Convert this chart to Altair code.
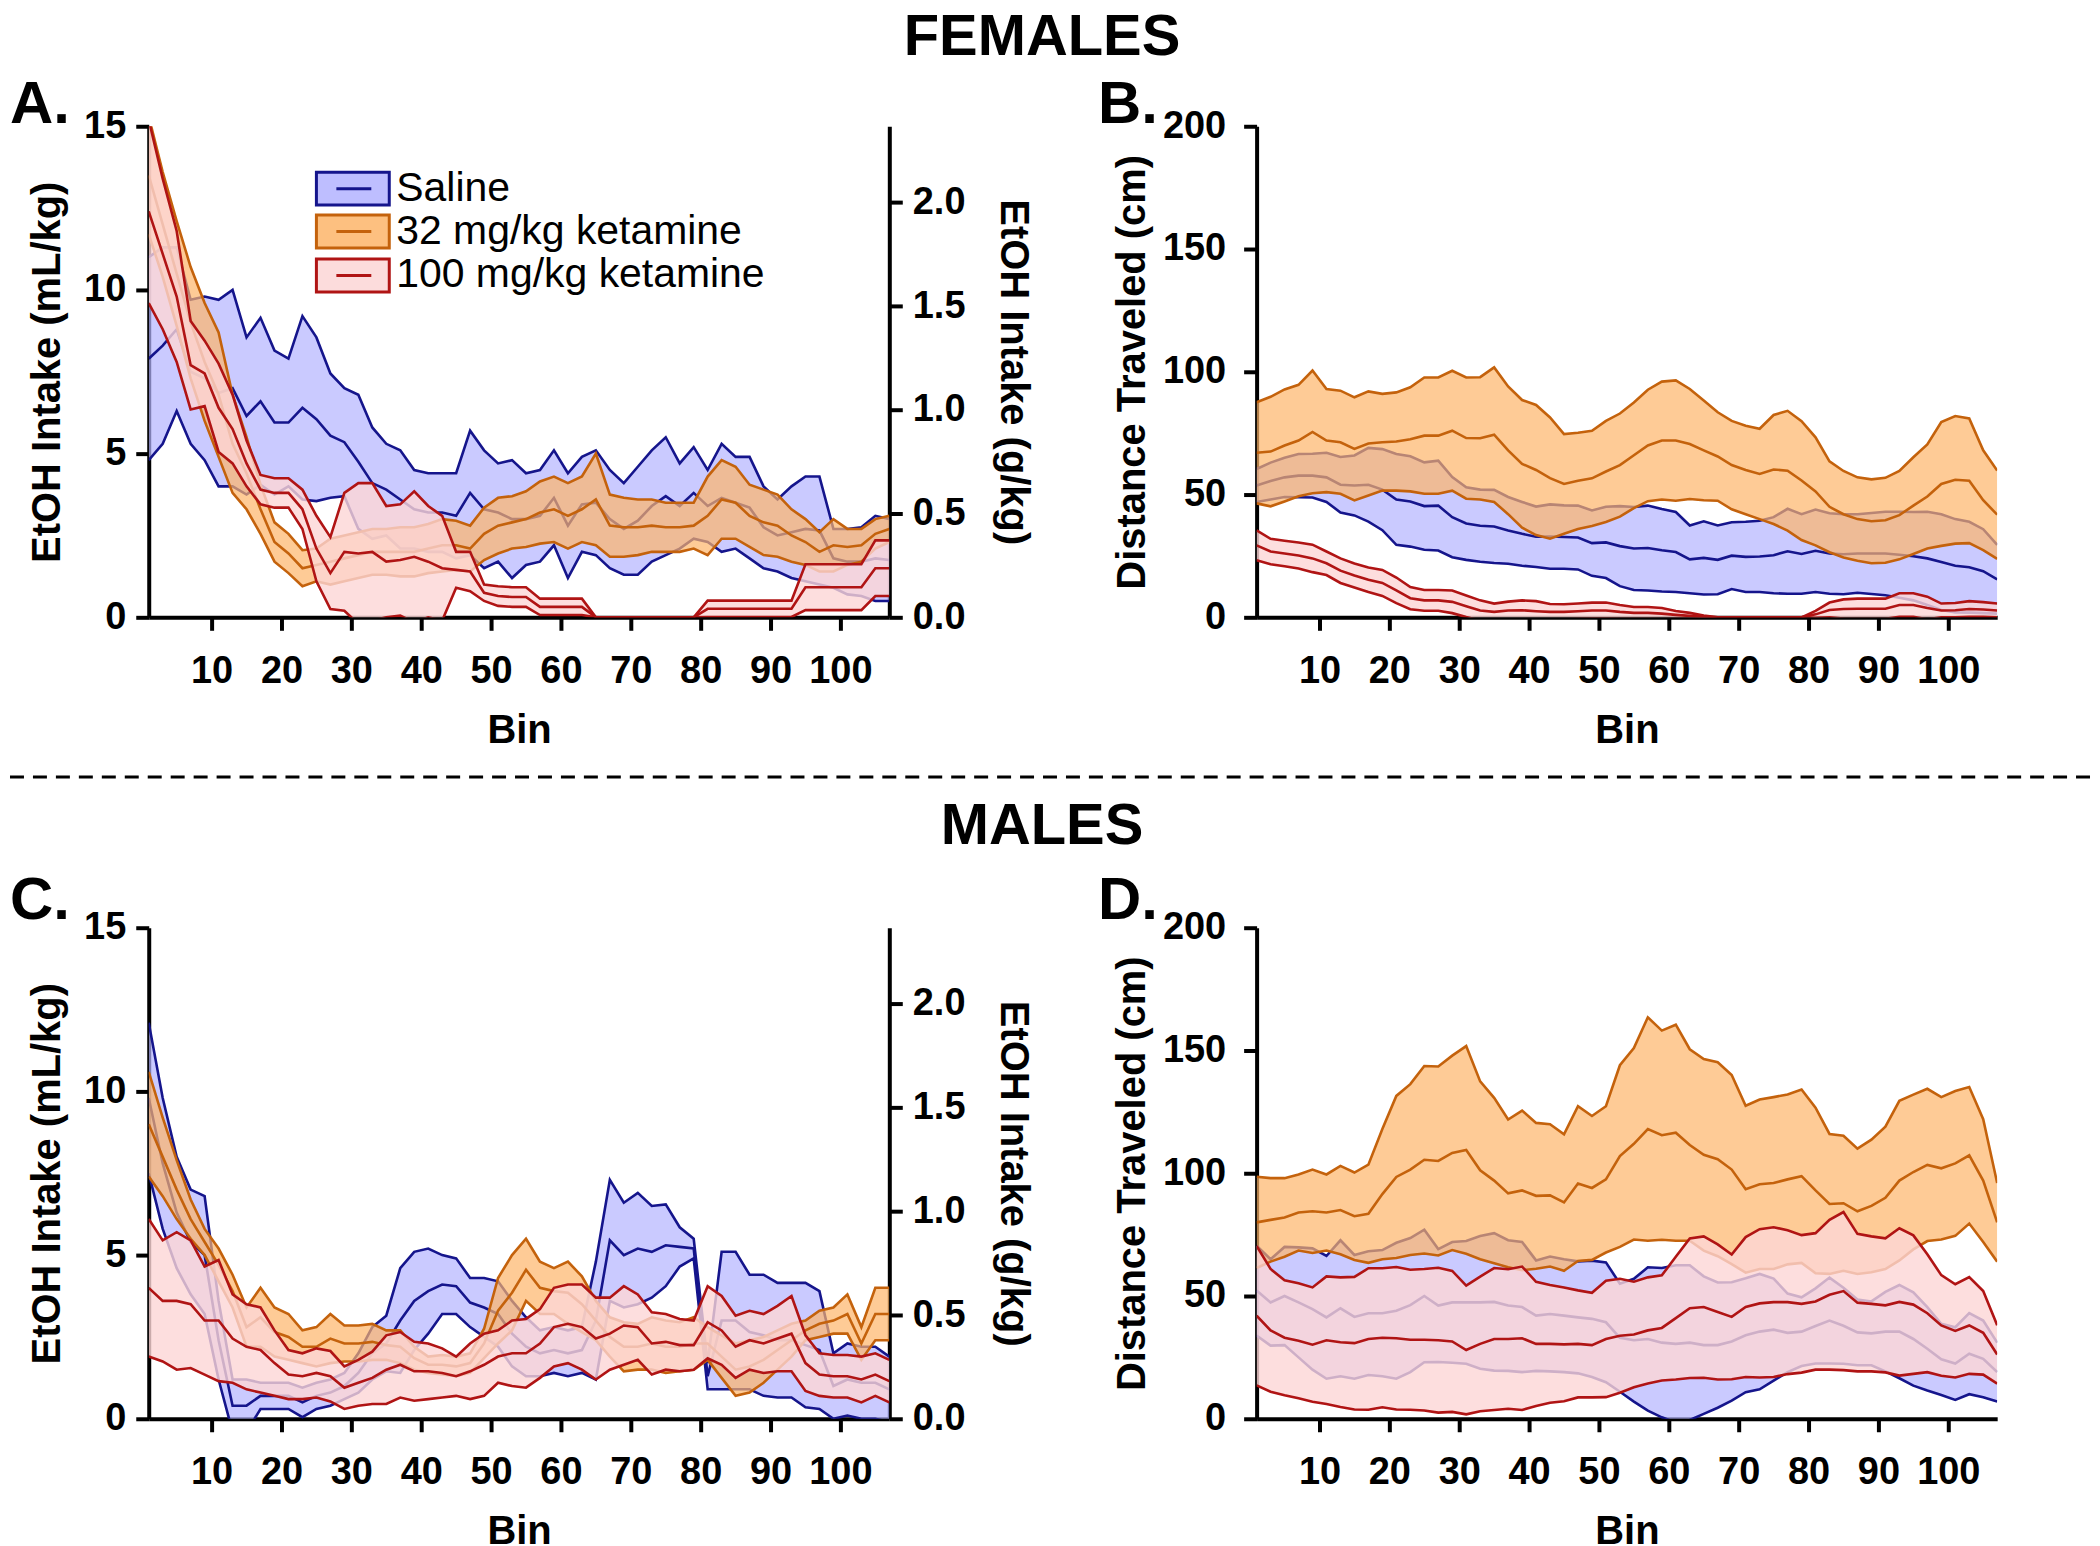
import altair as alt
import pandas as pd

FONT = "Liberation Sans"
BINS = list(range(1, 108, 2))
GROUPS = ["Saline", "32 mg/kg ketamine", "100 mg/kg ketamine"]
LINE_COLORS = ["#15158c", "#c4620c", "#b01414"]
FILL_COLORS = ["#b3b3ff", "#fdb56a", "#fcd6d6"]
FILL_OPACITY = [0.7, 0.7, 0.8]
GKG = 0.1578  # g/kg per mL/kg

# ---------------- Females, EtOH intake (mL/kg) ----------------
FA_SAL_M = [7.9, 8.3, 8.8, 7.5, 7.3, 6.85, 7.0, 6.15, 6.6, 5.95,
            5.95, 6.4, 6.05, 5.55, 5.35, 4.75, 4.1, 3.9, 3.6, 3.3,
            3.2, 3.2, 3.1, 3.8, 3.3, 3.2, 3.0, 3.0, 3.1, 3.65,
            2.8, 3.45, 3.5, 3.0, 2.7, 2.95, 3.4, 3.7, 3.4, 3.8,
            3.4, 3.65, 3.5, 3.35, 2.75, 2.5, 2.6, 2.7, 2.65, 1.8,
            1.7, 1.7, 1.8, 1.75]
FA_SAL_S = [3.1, 3.0, 2.5, 2.2, 2.5, 2.85, 3.0, 2.4, 2.55, 2.2,
            1.95, 2.8, 2.5, 1.9, 1.65, 2.05, 1.7, 1.4, 1.5, 1.2,
            1.2, 1.2, 1.3, 1.9, 1.8, 1.5, 1.8, 1.4, 1.4, 1.45,
            1.6, 1.45, 1.6, 1.5, 1.4, 1.65, 1.7, 1.8, 1.3, 1.4,
            1.1, 1.65, 1.4, 1.55, 1.25, 1.1, 1.4, 1.6, 1.65, 0.9,
            1.0, 1.05, 1.3, 1.25]
FA_K32_M = [13.5, 12.0, 10.5, 9.0, 7.8, 6.8, 5.3, 4.4, 3.3, 2.3,
            1.95, 1.5, 1.6, 1.7, 1.8, 1.9, 2.0, 2.0, 2.0, 2.0,
            2.1, 2.2, 2.2, 2.1, 2.55, 2.8, 2.9, 3.0, 3.2, 3.3,
            3.1, 3.3, 3.6, 2.8, 2.75, 2.75, 2.8, 2.75, 2.75, 2.8,
            3.1, 3.6, 3.5, 3.1, 2.9, 2.8, 2.5, 2.3, 2.0, 2.2,
            2.15, 2.2, 2.55, 2.7]
FA_K32_S = [1.8, 1.6, 1.6, 1.7, 1.8, 1.9, 1.5, 1.1, 0.75, 0.6,
            0.6, 0.55, 0.5, 0.7, 0.7, 0.7, 0.7, 0.7, 0.75, 0.75,
            0.75, 0.8, 0.75, 0.7, 0.8, 0.85, 0.8, 0.85, 0.95, 1.0,
            1.0, 1.0, 1.4, 0.95, 0.9, 0.85, 0.8, 0.75, 0.75, 0.7,
            1.2, 1.2, 1.1, 0.95, 1.0, 0.95, 0.8, 0.7, 0.6, 0.8,
            0.55, 0.5, 0.45, 0.4]
FA_K100_M = [12.4, 11.1, 9.8, 7.7, 7.45, 6.4, 5.75, 4.7, 3.9, 3.8,
             3.8, 3.3, 2.1, 1.35, 2.0, 1.95, 2.0, 1.7, 1.75, 1.85,
             1.7, 1.5, 1.45, 1.4, 0.75, 0.65, 0.62, 0.62, 0.32, 0.32,
             0.32, 0.32, 0, 0, 0, 0, 0, 0, 0, 0,
             0.26, 0.26, 0.26, 0.26, 0.26, 0.26, 0.26, 0.92, 0.92, 0.92,
             0.92, 0.92, 1.5, 1.5]
FA_K100_S = [2.8, 2.3, 2.0, 1.35, 1.0, 1.35, 1.05, 0.7, 0.45, 0.45,
             0.45, 0.6, 1.0, 1.1, 1.8, 2.15, 2.1, 1.7, 1.7, 2.0,
             1.7, 1.6, 0.55, 0.6, 0.25, 0.3, 0.3, 0.3, 0.25, 0.25,
             0.25, 0.25, 0, 0, 0, 0, 0, 0, 0, 0,
             0.25, 0.25, 0.25, 0.25, 0.25, 0.25, 0.25, 0.7, 0.7, 0.7,
             0.7, 0.7, 0.85, 0.85]

# ---------------- Females, distance traveled (cm) ----------------
FB_SAL_M = [53.7, 55.5, 57, 57.7, 57.7, 57, 54, 53.7, 54, 52,
            48, 47.2, 45.3, 45.5, 40.8, 38.2, 37.3, 37, 35.4, 34,
            32.8, 32.9, 32.7, 32.5, 30.2, 30.5, 29, 28, 28.2, 27.3,
            26.6, 23.6, 24.2, 23.4, 25.1, 24.6, 24.8, 25.3, 26.9, 25.8,
            27.1, 26, 25.7, 26, 26, 26, 25.5, 24.9, 24, 22.5,
            21, 20.4, 18.8, 15.5]
FB_SAL_S = [6.7, 7.5, 8, 8.8, 8.9, 10, 11.3, 12.2, 15, 16.5,
            18.5, 18.4, 17.8, 18.3, 16.3, 14.8, 14.7, 14.9, 13.6, 13,
            12.3, 13.1, 12.9, 13, 13.3, 14.5, 16.3, 16.9, 17.3, 16.8,
            16.3, 13.8, 14.9, 14, 13.6, 14.3, 14.5, 15.5, 17.3, 16.2,
            16.8, 16.4, 16.3, 16, 16.5, 17, 17.5, 18, 19, 19.5,
            19, 18.5, 17.1, 14]
FB_K32_M = [67, 67.5, 70, 72, 75.5, 72, 71.3, 68.6, 70.8, 71.3,
            71.6, 72.5, 74, 74, 76, 73, 72.9, 74.4, 68, 62.5,
            60, 56.7, 54.3, 55.6, 56.6, 59.4, 62, 66, 70, 72,
            72, 70.6, 68, 65.5, 62, 60, 58.4, 60.2, 59.7, 55.7,
            51.3, 45, 42, 40, 39.1, 39.5, 41.6, 45.5, 49.2, 54.3,
            56, 55.6, 47.7, 41.8]
FB_K32_S = [20.6, 22.3, 22.8, 22.7, 25, 21, 21, 21, 21.2, 19.7,
            20, 21.2, 23.7, 23.7, 24.4, 24.7, 24.9, 27.4, 26, 26,
            26.5, 24.7, 20.3, 19.6, 19.4, 20.6, 21, 21.5, 22.7, 24,
            24.5, 22.4, 20.3, 18, 18, 18, 18.4, 22.2, 24.4, 24.2,
            22, 18.5, 17.6, 17, 17.1, 17.3, 18, 19.7, 21.2, 25.2,
            26, 25.4, 20.3, 18]
FB_K100_M = [29.3, 26.8, 26, 25.2, 24, 22, 19, 17, 15.3, 14,
             11, 7.8, 6.9, 6.9, 6.3, 4.5, 2.8, 2.2, 2.8, 2.9,
             2.5, 2.2, 2.2, 2.5, 2.8, 2.8, 2.2, 1.8, 1.8, 1.5,
             1.0, 0.6, 0.2, 0, 0, 0, 0, 0, 0, 0,
             1.2, 3, 3.4, 3.5, 3.5, 3.5, 5, 5, 3.8, 2.8,
             2.9, 3.4, 3.2, 2.8]
FB_K100_S = [6.1, 5.2, 5.2, 5.3, 5.6, 4.8, 5.0, 4.9, 5, 5.3,
             5.2, 4.5, 4.2, 4.2, 4.6, 4.4, 4.1, 3.4, 3.6, 4,
             4.1, 3.2, 3.1, 3.1, 3.2, 3.2, 2.8, 2.4, 2.4, 2.3,
             1.6, 1.2, 0.5, 0, 0, 0, 0, 0, 0, 0,
             1.4, 3, 3.9, 4.1, 4.1, 4.1, 4.8, 4.8, 4.6, 2.8,
             2.9, 3.2, 3.0, 2.8]

# ---------------- Males, EtOH intake (mL/kg) ----------------
MC_SAL_M = [9.8, 7.8, 6.3, 5.4, 5.0, 2.4, 0.4, 0.4, 0.7, 0.7,
            0.7, 0.5, 0.7, 0.8, 1.0, 1.4, 2.0, 2.3, 3.0, 3.6,
            3.9, 4.1, 4.05, 3.55, 3.4, 3.2, 2.6, 2.2, 2.0, 2.1,
            2.0, 2.1, 3.0, 5.45, 5.0, 5.2, 5.1, 5.3, 5.25, 5.2,
            1.3, 3.0, 3.0, 2.65, 2.55, 2.4, 2.4, 2.25, 2.1, 1.0,
            1.2, 1.1, 1.1, 0.9]
MC_SAL_S = [2.3, 2.0, 1.7, 1.6, 1.8, 1.2, 0.8, 0.8, 0.4, 0.4,
            0.4, 0.45, 0.4, 0.4, 0.4, 0.6, 0.8, 0.85, 1.6, 1.5,
            1.3, 0.9, 0.85, 0.75, 0.9, 1.0, 1.0, 0.9, 0.7, 0.7,
            0.7, 0.7, 1.8, 1.85, 1.6, 1.7, 1.4, 1.25, 0.6, 0.3,
            0.4, 2.1, 2.1, 1.75, 1.85, 1.75, 1.75, 1.9, 1.8, 1.0,
            1.1, 1.1, 1.1, 1.0]
MC_K32_M = [9.0, 8.0, 7.0, 6.1, 5.4, 4.7, 3.9, 2.8, 3.1, 2.65,
            2.5, 2.2, 2.2, 2.45, 2.3, 2.3, 2.35, 2.25, 2.2, 1.85,
            1.65, 1.65, 1.6, 1.7, 2.3, 3.3, 3.85, 4.55, 4.0, 3.9,
            3.85, 3.5, 3.0, 2.5, 2.2, 2.2, 2.3, 2.2, 2.2, 2.3,
            2.3, 1.9, 1.5, 1.6, 1.8, 2.1, 2.4, 2.7, 2.9, 3.0,
            3.2, 2.3, 3.2, 3.2]
MC_K32_S = [1.6, 1.2, 0.9, 0.6, 0.4, 0.5, 0.5, 0.6, 0.9, 0.75,
            0.7, 0.5, 0.6, 0.75, 0.55, 0.55, 0.55, 0.45, 0.5, 0.35,
            0.25, 0.3, 0.3, 0.3, 0.45, 1.0, 1.15, 0.95, 0.8, 0.7,
            0.95, 0.85, 0.6, 0.6, 0.75, 0.7, 0.8, 0.8, 0.75, 0.8,
            0.5, 0.65, 0.8, 0.8, 0.7, 0.6, 0.5, 0.3, 0.4, 0.4,
            0.6, 0.5, 0.8, 0.8]
MC_K100_M = [4.0, 3.6, 3.6, 3.5, 3.0, 3.0, 2.45, 2.2, 2.1, 1.7,
             1.35, 1.3, 1.4, 1.3, 0.95, 1.1, 1.25, 1.5, 1.65, 1.45,
             1.45, 1.4, 1.3, 1.45, 1.65, 1.9, 2.0, 2.0, 2.3, 2.8,
             2.9, 2.8, 2.45, 2.6, 2.85, 2.8, 2.3, 2.35, 2.25, 2.25,
             2.95, 2.7, 2.2, 2.4, 2.3, 2.45, 2.6, 1.7, 1.35, 1.3,
             1.3, 1.2, 1.35, 1.15]
MC_K100_S = [2.1, 1.85, 2.1, 1.95, 1.65, 1.85, 1.35, 1.3, 1.3, 1.0,
             0.75, 0.7, 0.75, 0.77, 0.65, 0.7, 0.8, 1.05, 1.0, 0.9,
             0.85, 0.75, 0.6, 0.85, 0.95, 0.8, 1.0, 1.05, 1.05, 1.2,
             1.2, 1.3, 1.25, 1.1, 1.2, 1.0, 0.95, 0.85, 0.8, 0.75,
             1.1, 1.05, 0.95, 0.9, 0.9, 1.0, 1.15, 0.85, 0.65, 0.65,
             0.65, 0.7, 0.65, 0.65]

# ---------------- Males, distance traveled (cm) ----------------
MD_SAL_M = [52.2, 47.4, 50, 47.4, 44.7, 41.3, 45, 41.5, 43, 43,
            44, 46.3, 50, 46.1, 47.4, 47.4, 47.4, 47.6, 46.1, 45.5,
            42, 42.7, 42, 41.3, 40.7, 39.3, 33, 32, 32.5, 31,
            30.5, 31, 30, 30, 31.5, 34, 35.5, 36.3, 35, 35.5,
            37.8, 40, 37.9, 35.2, 34.8, 35.5, 35.5, 32.5, 28.5, 24.2,
            22.5, 26.5, 24.4, 19]
MD_SAL_S = [18.3, 17.6, 20, 22.4, 24.7, 25, 27.7, 25.2, 25.2, 25.7,
            27.7, 27.3, 27, 23, 24.6, 25, 27, 28, 26.6, 26.5,
            22.5, 23.4, 23, 22.8, 23.7, 24.4, 22, 25, 29.2, 30.4,
            32, 31.5, 28, 25.5, 24.1, 23.2, 23.5, 20.8, 16, 14,
            15.3, 17.5, 15.5, 13.4, 13, 16.2, 19, 19, 17, 14.5,
            14.8, 16.5, 15.6, 12]
MD_K32_M = [80, 81, 82, 84, 84.5, 84, 85, 82.5, 83.5, 91.5,
            98.5, 101.5, 105.5, 105, 108.3, 109.5, 101.2, 97, 91.8, 93,
            90.8, 91, 88.1, 95.8, 94, 97.5, 107, 112, 118, 115.5,
            116.5, 111.5, 107.5, 105.7, 101.5, 93.5, 95.5, 96, 97.5, 98.8,
            93, 87.5, 87.8, 84.5, 86.7, 90, 97, 100.5, 103.4, 102,
            104, 107.3, 97, 80]
MD_K32_S = [18.6, 17, 16, 15.5, 17, 15.5, 18, 17.8, 20, 26.5,
            33, 34.8, 38.2, 38.5, 39.6, 42.3, 36.2, 33.7, 30.1, 32.5,
            29.7, 29, 27.8, 31.5, 29.3, 29.8, 37, 39, 45.5, 42.6,
            44, 39, 39, 39.5, 38.5, 34, 34.5, 35, 34.6, 35.3,
            33.7, 28.5, 27.5, 25.5, 27, 29, 32.5, 31.5, 31, 29,
            29.5, 27.8, 25, 16]
MD_K100_M = [42, 36, 33, 31.8, 30.2, 32, 31.2, 30.8, 32.5, 33,
             32.8, 32.2, 32.2, 32, 31.5, 28, 30.5, 32.5, 32.5, 32.8,
             30.5, 30.5, 30.3, 30.5, 30, 32.5, 33.8, 34.3, 36, 37,
             41, 45, 45.5, 43.5, 41.5, 45.5, 47, 47.5, 47.5, 46.8,
             47.8, 50.5, 52, 47.3, 46.8, 46.2, 47.6, 46.5, 43, 38,
             35.8, 38, 35, 26.2]
MD_K100_S = [28.4, 25, 23.4, 23.4, 23.3, 26, 26.4, 27, 28.8, 28.3,
             29, 28.5, 28.8, 29.5, 28.7, 26.2, 27.4, 28.9, 28.4, 29.2,
             25.3, 24, 23.2, 21.8, 21.3, 23.7, 23.2, 21.5, 21.6, 21.4,
             25, 28.4, 28.8, 27.5, 25.4, 28.5, 30.2, 30.5, 29.3, 28,
             27.8, 30.5, 32.2, 28, 27.5, 27.3, 30, 28.2, 24, 20.5,
             19, 19.7, 17, 11.9]

X_TICKS = [10, 20, 30, 40, 50, 60, 70, 80, 90, 100]
ETOH_TICKS = [0, 5, 10, 15]
DIST_TICKS = [0, 50, 100, 150, 200]
GKG_TICKS = [0.0, 0.5, 1.0, 1.5, 2.0]

W, H = 742, 492

AX = dict(domainColor="black", domainWidth=4, tickColor="black", tickWidth=4,
          tickSize=13, labelFont=FONT, labelFontSize=38, labelFontWeight="bold",
          labelColor="black", titleFont=FONT, titleFontSize=40,
          titleFontWeight="bold", titleColor="black", grid=False,
          labelFlush=False, labelOverlap=False)

XS = alt.Scale(domain=[1, 107], nice=False, zero=False)
XAXIS = alt.Axis(values=X_TICKS, title="Bin", labelPadding=22, titlePadding=20, **AX)


def band_layers(means, sems, ymax, yaxis):
    ys = alt.Scale(domain=[0, ymax], nice=False, zero=True)
    out = []
    for g in range(3):
        df = pd.DataFrame({"bin": BINS, "mean": means[g], "sem": sems[g]})
        df["lo"] = df["mean"] - df["sem"]
        df["hi"] = df["mean"] + df["sem"]
        base = alt.Chart(df)
        area = base.mark_area(clip=True, fill=FILL_COLORS[g],
                              fillOpacity=FILL_OPACITY[g], strokeWidth=0).encode(
            x=alt.X("bin:Q", scale=XS, axis=XAXIS),
            y=alt.Y("lo:Q", scale=ys, axis=yaxis),
            y2="hi:Q")
        lines = base.transform_fold(["lo", "mean", "hi"], as_=["kind", "val"]).mark_line(
            clip=True, color=LINE_COLORS[g], strokeWidth=2.6).encode(
            x=alt.X("bin:Q", scale=XS, axis=XAXIS),
            y=alt.Y("val:Q", scale=ys, axis=yaxis),
            detail="kind:N")
        out += [area, lines]
    return out


def label(text, x, y, size, weight="bold", align="left", baseline="alphabetic"):
    return alt.Chart(pd.DataFrame({"t": [text]})).mark_text(
        font=FONT, fontSize=size, fontWeight=weight, align=align,
        baseline=baseline, color="black").encode(
        x=alt.value(x), y=alt.value(y), text="t:N")


def legend_layers():
    out = []
    tops = [46, 89, 133]
    for g, top in enumerate(tops):
        d = pd.DataFrame({"t": [GROUPS[g]]})
        yc = top + 16.5
        out.append(alt.Chart(d).mark_rect(fill=FILL_COLORS[g], fillOpacity=0.85,
                                          stroke=LINE_COLORS[g], strokeWidth=3).encode(
            x=alt.value(168), x2=alt.value(241), y=alt.value(top), y2=alt.value(top + 33)))
        out.append(alt.Chart(d).mark_rule(color=LINE_COLORS[g], strokeWidth=3).encode(
            x=alt.value(188), x2=alt.value(223), y=alt.value(yc)))
        out.append(label(GROUPS[g], 248, yc, 41, weight="normal", baseline="middle"))
    return out


def gkg_layer():
    d = pd.DataFrame({"bin": [1, 107], "gkg": [0.0, 15 * GKG]})
    return alt.Chart(d).mark_point(opacity=0).encode(
        x=alt.X("bin:Q", scale=XS, axis=XAXIS),
        y=alt.Y("gkg:Q", scale=alt.Scale(domain=[0, 15 * GKG], nice=False),
                axis=alt.Axis(orient="right", values=GKG_TICKS, format=".1f",
                              title="EtOH Intake (g/kg)", titleAngle=90,
                              labelPadding=10, titlePadding=28, **AX)))


def dashed_sep():
    return alt.Chart(pd.DataFrame({"t": [0]})).mark_rule(
        color="black", strokeWidth=3, strokeDash=[14, 9]).encode(
        x=alt.value(-139), x2=alt.value(1945), y=alt.value(652))


etoh_axis = alt.Axis(values=ETOH_TICKS, title="EtOH Intake (mL/kg)",
                     labelPadding=10, titlePadding=16, **AX)
dist_axis = alt.Axis(values=DIST_TICKS, title="Distance Traveled (cm)",
                     labelPadding=18, titlePadding=10, **AX)

# Panel A
a_inner = alt.layer(
    *band_layers([FA_SAL_M, FA_K32_M, FA_K100_M], [FA_SAL_S, FA_K32_S, FA_K100_S], 15, etoh_axis),
    *legend_layers(),
    label("A.", -139, -3, 60),
    label("FEMALES", 895, -117, 58, align="center", baseline="top"),
    dashed_sep(),
)
panel_a = alt.layer(a_inner, gkg_layer()).resolve_scale(y="independent").properties(width=W, height=H)

# Panel B
panel_b = alt.layer(
    *band_layers([FB_SAL_M, FB_K32_M, FB_K100_M], [FB_SAL_S, FB_K32_S, FB_K100_S], 200, dist_axis),
    label("B.", -159, -3, 60),
).properties(width=W, height=H)

# Panel C
c_inner = alt.layer(
    *band_layers([MC_SAL_M, MC_K32_M, MC_K100_M], [MC_SAL_S, MC_K32_S, MC_K100_S], 15, etoh_axis),
    label("C.", -139, -9, 60),
    label("MALES", 895, -130, 58, align="center", baseline="top"),
)
panel_c = alt.layer(c_inner, gkg_layer()).resolve_scale(y="independent").properties(width=W, height=H)

# Panel D
panel_d = alt.layer(
    *band_layers([MD_SAL_M, MD_K32_M, MD_K100_M], [MD_SAL_S, MD_K32_S, MD_K100_S], 200, dist_axis),
    label("D.", -159, -9, 60),
).properties(width=W, height=H)

chart = alt.concat(panel_a, panel_b, panel_c, panel_d, columns=2,
                   spacing={"row": 311, "column": 368}, bounds="flush",
                   padding=0).configure_view(stroke=None)

chart.save("out.html", embed_options={"renderer": "svg", "actions": False})
